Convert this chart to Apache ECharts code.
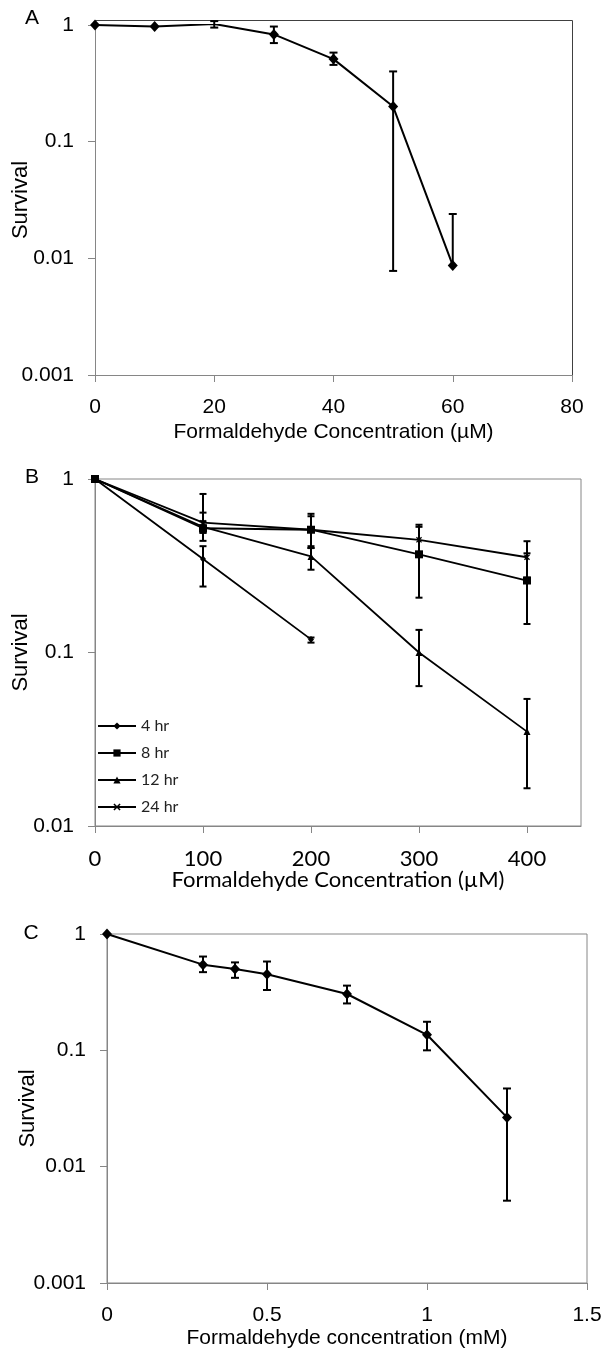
<!DOCTYPE html>
<html>
<head>
<meta charset="utf-8">
<script src="https://cdn.jsdelivr.net/npm/echarts@6/dist/echarts.min.js"></script>
<style>
html,body{margin:0;padding:0;background:#fff;}
#chart{width:605px;height:1351px;}
</style>
</head>
<body>
<div id="chart"></div>
<script>
// ---------- Data ----------
// Panel A
const aX = [0, 10, 20, 30, 40, 50, 60];
const aY = [1, 0.97, 1.02, 0.83, 0.51, 0.20, 0.0087];
const aLo = [null, null, 0.95, 0.70, 0.455, 0.0078, null];
const aHi = [null, null, 1.08, 0.97, 0.58, 0.40, 0.024];
const aXTicks = [0, 20, 40, 60, 80];

// Panel B
const bX = [0, 100, 200, 300, 400];
const bNames = ['4 hr', '8 hr', '12 hr', '24 hr'];
const b4 = [1, 0.346, 0.119];
const b4Lo = [null, 0.24, 0.114];
const b4Hi = [null, 0.41, 0.122];
const b8 = [1, 0.52, 0.51, 0.368, 0.26];
const b8Lo = [null, 0.44, 0.41, 0.207, 0.146];
const b8Hi = [null, 0.64, 0.63, 0.53, 0.373];
const b12 = [1, 0.53, 0.358, 0.1, 0.035];
const b12Lo = [null, 0.49, 0.30, 0.064, 0.0165];
const b12Hi = [null, 0.57, 0.40, 0.135, 0.054];
const b24 = [1, 0.56, 0.51, 0.446, 0.354];
const b24Lo = [null, 0.49, 0.40, 0.37, 0.27];
const b24Hi = [null, 0.82, 0.61, 0.545, 0.438];
const bXTicks = [0, 100, 200, 300, 400];

// Panel C
const cX = [0, 0.3, 0.4, 0.5, 0.75, 1.0, 1.25];
const cY = [1, 0.545, 0.50, 0.45, 0.305, 0.136, 0.0265];
const cLo = [null, 0.47, 0.42, 0.33, 0.253, 0.10, 0.0051];
const cHi = [null, 0.64, 0.57, 0.58, 0.36, 0.176, 0.047];
const cXTicks = [0, 0.5, 1, 1.5];

const yLabels = {'0': '1', '-1': '0.1', '-2': '0.01', '-3': '0.001'};

// ---------- Helpers ----------
const ARIAL = '"Liberation Sans", Arial, sans-serif';
const CALIBRI = 'Lato, "Liberation Sans", sans-serif';
const AXIS_COLOR = '#868686';

function zip(xs, ys) { return xs.slice(0, ys.length).map((x, i) => [x, ys[i]]); }
function errData(xs, ys, lo, hi) {
  const out = [];
  for (let i = 0; i < ys.length; i++) {
    if (lo[i] == null && hi[i] == null) continue;
    out.push([xs[i], ys[i], lo[i] == null ? '-' : lo[i], hi[i] == null ? '-' : hi[i]]);
  }
  return out;
}
function errSeries(idx, data, half, width) {
  return {
    type: 'custom', xAxisIndex: idx, yAxisIndex: idx, silent: true, z: 2,
    encode: {x: 0, y: 1},
    data: data,
    renderItem: function (params, api) {
      const x = api.value(0), y = api.value(1), lo = api.value(2), hi = api.value(3);
      const hasLo = !isNaN(lo), hasHi = !isNaN(hi);
      const top = api.coord([x, hasHi ? hi : y]);
      const bot = api.coord([x, hasLo ? lo : y]);
      const st = {stroke: '#000', lineWidth: width};
      const ch = [{type: 'line', shape: {x1: top[0], y1: top[1], x2: bot[0], y2: bot[1]}, style: st}];
      if (hasHi) ch.push({type: 'line', shape: {x1: top[0] - half, y1: top[1], x2: top[0] + half, y2: top[1]}, style: st});
      if (hasLo) ch.push({type: 'line', shape: {x1: bot[0] - half, y1: bot[1], x2: bot[0] + half, y2: bot[1]}, style: st});
      return {type: 'group', children: ch};
    }
  };
}
function logY(idx, gap, font, fontSize, nameSize) {
  return {
    type: 'log', logBase: 10, gridIndex: idx, min: 0.001 * (idx === 1 ? 10 : 1), max: 1,
    name: 'Survival', nameLocation: 'middle', nameGap: gap, nameMoveOverlap: false,
    nameTextStyle: {fontFamily: ARIAL, fontSize: nameSize, color: '#000'},
    axisLine: {show: true, lineStyle: {color: AXIS_COLOR, width: 1}},
    axisTick: {show: true, inside: false, length: 7, lineStyle: {color: AXIS_COLOR}},
    splitLine: {show: false},
    minorTick: {show: false},
    axisLabel: {
      margin: 21, fontFamily: font, fontSize: fontSize, color: '#000',
      formatter: function (v) { const e = Math.round(Math.log10(v)); return yLabels[String(e)] || ''; }
    }
  };
}
function linX(idx, min, max, interval, ticks, name, gap, font, fontSize, margin) {
  return {
    type: 'value', gridIndex: idx, min: min, max: max, interval: interval,
    name: name, nameLocation: 'middle', nameGap: gap, nameMoveOverlap: false,
    nameTextStyle: {fontFamily: font, fontSize: fontSize, color: '#000'},
    axisLine: {show: true, onZero: false, lineStyle: {color: AXIS_COLOR, width: 1}},
    axisTick: {show: true, inside: false, length: 7, lineStyle: {color: AXIS_COLOR}, customValues: ticks},
    splitLine: {show: false},
    axisLabel: {margin: margin, fontFamily: font, fontSize: fontSize, color: '#000', customValues: ticks,
      formatter: function (v) { return String(v); }}
  };
}
function lineSeries(idx, name, data, symbol, size, width) {
  return {
    type: 'line', name: name, xAxisIndex: idx, yAxisIndex: idx, data: data,
    symbol: symbol, symbolSize: size, showSymbol: true, z: 3,
    lineStyle: {color: '#000', width: width},
    itemStyle: {color: '#000'},
    emphasis: {disabled: true}
  };
}

const XSYM = 'path://M0,1.5L1.5,0L5,3.5L8.5,0L10,1.5L6.5,5L10,8.5L8.5,10L5,6.5L1.5,10L0,8.5L3.5,5Z';

const gridBase = {containLabel: false, outerBoundsMode: 'none'};
const option = {
  animation: false,
  backgroundColor: '#fff',
  grid: [
    Object.assign({left: 95, top: 25, width: 477, height: 350, show: false}, gridBase),
    Object.assign({left: 95, top: 479, width: 486, height: 347, show: true, borderColor: AXIS_COLOR, borderWidth: 1, backgroundColor: 'transparent'}, gridBase),
    Object.assign({left: 107, top: 934, width: 480, height: 349, show: true, borderColor: AXIS_COLOR, borderWidth: 1, backgroundColor: 'transparent'}, gridBase)
  ],
  xAxis: [
    linX(0, 0, 80, 20, aXTicks, 'Formaldehyde Concentration (µM)', 47, ARIAL, 21, 22),
    linX(1, 0, 450, 50, bXTicks, 'Formaldehyde Concentration (µM)', 43, CALIBRI, 22, 22),
    linX(2, 0, 1.5, 0.5, cXTicks, 'Formaldehyde concentration (mM)', 45, ARIAL, 21, 22)
  ],
  yAxis: [
    logY(0, 63, ARIAL, 21, 22),
    logY(1, 63, ARIAL, 21, 22),
    logY(2, 68, ARIAL, 21, 22)
  ],
  legend: {
    orient: 'vertical', left: 97, top: 718, padding: 0,
    itemWidth: 38, itemHeight: 9, itemGap: 11,
    data: bNames,
    textStyle: {fontFamily: CALIBRI, fontSize: 16, color: '#222', lineHeight: 14},
    selectedMode: false
  },
  graphic: [
    {type: 'polyline', shape: {points: [[95.5, 25], [95.5, 20.5], [572.5, 20.5], [572.5, 375]]}, style: {stroke: '#404040', lineWidth: 1, fill: null}},
    {type: 'text', x: 32, y: 18, style: {text: 'A', fontFamily: ARIAL, fontSize: 21, fill: '#000', align: 'center', verticalAlign: 'middle'}},
    {type: 'text', x: 32, y: 477, style: {text: 'B', fontFamily: ARIAL, fontSize: 21, fill: '#000', align: 'center', verticalAlign: 'middle'}},
    {type: 'text', x: 31, y: 933, style: {text: 'C', fontFamily: ARIAL, fontSize: 21, fill: '#000', align: 'center', verticalAlign: 'middle'}}
  ],
  series: [
    errSeries(0, errData(aX, aY, aLo, aHi), 4, 2),
    lineSeries(0, 'A', zip(aX, aY), 'diamond', [10, 11], 2),

    errSeries(1, errData(bX, b4, b4Lo, b4Hi), 3.5, 2),
    errSeries(1, errData(bX, b8, b8Lo, b8Hi), 3.5, 2),
    errSeries(1, errData(bX, b12, b12Lo, b12Hi), 3.5, 2),
    errSeries(1, errData(bX, b24, b24Lo, b24Hi), 3.5, 2),
    lineSeries(1, '4 hr', zip(bX, b4), 'diamond', [6, 7], 1.8),
    lineSeries(1, '8 hr', zip(bX, b8), 'rect', 8, 1.8),
    lineSeries(1, '12 hr', zip(bX, b12), 'triangle', 7, 1.8),
    lineSeries(1, '24 hr', zip(bX, b24), XSYM, 6, 1.8),

    errSeries(2, errData(cX, cY, cLo, cHi), 4, 2),
    lineSeries(2, 'C', zip(cX, cY), 'diamond', [10, 11], 2)
  ]
};

const chart = echarts.init(document.getElementById('chart'), null, {renderer: 'canvas'});
chart.setOption(option);
</script>
</body>
</html>
